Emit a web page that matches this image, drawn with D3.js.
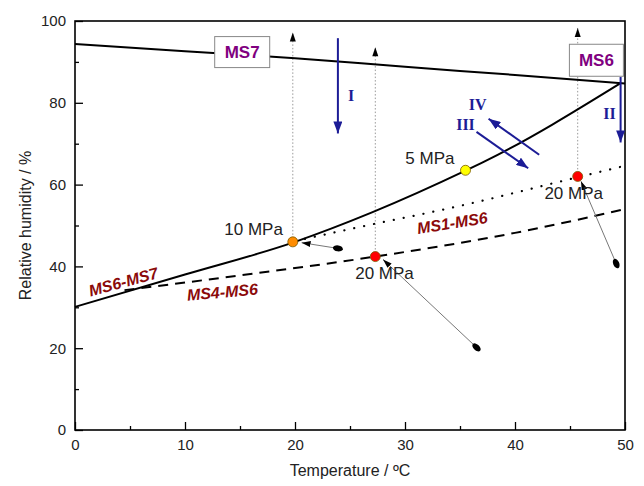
<!DOCTYPE html>
<html>
<head>
<meta charset="utf-8">
<script src="https://cdn.jsdelivr.net/npm/d3@7/dist/d3.min.js"></script>
<style>
  body { margin: 0; background: #fff; }
  svg { display: block; font-family: "Liberation Sans", Arial, sans-serif; }
</style>
</head>
<body>
<div id="chart"></div>
<script>
// ---- data ----
const xTicks = [0, 10, 20, 30, 40, 50];
const yTicks = [0, 20, 40, 60, 80, 100];
const xMinor = [5, 15, 25, 35, 45];
const yMinor = [10, 30, 50, 70, 90];

// phase boundaries [T, RH]
const ms7Line = [[0, 94.4], [10, 92.6], [20, 90.9], [30, 88.8], [40, 86.8], [50, 84.7]];
const ms6ms7Line = [[0, 30.1], [10, 38.0], [20, 46.0], [27, 53.2], [35.5, 63.4], [37.2, 65.6], [49.6, 84.8]];
const ms1ms6Line = [[20, 46.2], [26, 49.7], [35, 54.8], [45.7, 61.8], [50, 64.6]];
const ms4ms6Line = [[4.5, 34.2], [15, 37.8], [27.3, 42.4], [40, 48.2], [50, 54.0]];

// deliquescence points
const points = [
  { label: '10 MPa', t: 19.8, rh: 46.0, color: '#ff8c00', lx: 18.9, ly: 47.6 },
  { label: '5 MPa',  t: 35.5, rh: 63.5, color: '#ffff00', lx: 34.5, ly: 65.0 },
  { label: '20 MPa', t: 27.3, rh: 42.4, color: '#ff0000', lx: 30.8, ly: 37.0 },
  { label: '20 MPa', t: 45.7, rh: 62.0, color: '#ff0000', lx: 48.0, ly: 56.6 }
];

// dotted guides going up from points: [T, RHfrom, RHto]
const guides = [[19.8, 46.0, 97.2], [27.3, 42.4, 93.6], [45.7, 62.0, 98.3]];

// thin pointer arrows: tail -> head
const pointers = [
  { from: [23.9, 44.4], to: [20.6, 45.8] },
  { from: [36.5, 20.2], to: [28.0, 41.7] },
  { from: [49.2, 40.7], to: [46.0, 60.8] }
];

// blue path arrows with roman labels
const pathArrows = [
  { label: 'I',   from: [23.9, 95.8], to: [23.9, 72.5], lt: 25.1, lrh: 81.8 },
  { label: 'II',  from: [49.6, 86.3], to: [49.6, 70.3], lt: 48.6, lrh: 77.4 },
  { label: 'IV',  from: [42.2, 67.3], to: [37.6, 76.1], lt: 36.6, lrh: 79.6 },
  { label: 'III', from: [36.5, 72.9], to: [41.2, 64.0], lt: 35.5, lrh: 74.7 }
];

// boxed phase labels
const boxes = [
  { label: 'MS7', t: 15.2, rh: 92.4, w: 55, h: 31 },
  { label: 'MS6', t: 47.4, rh: 90.4, w: 54, h: 32 }
];

// boundary names (centre position)
const lineNames = [
  { label: 'MS6-MS7', t: 4.4,  rh: 36.2, angle: -15 },
  { label: 'MS4-MS6', t: 13.4, rh: 33.7, angle: -5 },
  { label: 'MS1-MS6', t: 34.3, rh: 50.6, angle: -9 }
];

// ---- layout ----
const W = 644, H = 486;
const margin = { top: 21, right: 19, bottom: 56, left: 75 };

const svg = d3.select('#chart').append('svg')
  .attr('width', W).attr('height', H);

const x = d3.scaleLinear().domain([0, 50]).range([margin.left, W - margin.right]);
const y = d3.scaleLinear().domain([0, 100]).range([H - margin.bottom, margin.top]);

const defs = svg.append('defs');
function marker(id, color, len, wid) {
  defs.append('marker')
    .attr('id', id)
    .attr('viewBox', `0 0 ${len} ${wid}`)
    .attr('refX', len).attr('refY', wid / 2)
    .attr('markerWidth', len).attr('markerHeight', wid)
    .attr('markerUnits', 'userSpaceOnUse')
    .attr('orient', 'auto')
    .append('path')
    .attr('d', `M0,0L${len},${wid / 2}L0,${wid}Z`)
    .attr('fill', color);
}
marker('blueHead', '#1c1c96', 12, 9);
marker('blackHead', '#000', 9, 6);

// ---- axes ----
svg.append('g')
  .attr('transform', `translate(0,${y(0)})`)
  .call(d3.axisBottom(x).tickValues(xTicks).tickSizeInner(-8).tickSizeOuter(0).tickPadding(9));
svg.append('g')
  .attr('transform', `translate(0,${y(0)})`)
  .call(d3.axisBottom(x).tickValues(xMinor).tickSizeInner(-4).tickSizeOuter(0).tickFormat(''));
svg.append('g')
  .attr('transform', `translate(${x(0)},0)`)
  .call(d3.axisLeft(y).tickValues(yTicks).tickSizeInner(-8).tickSizeOuter(0).tickPadding(9));
svg.append('g')
  .attr('transform', `translate(${x(0)},0)`)
  .call(d3.axisLeft(y).tickValues(yMinor).tickSizeInner(-4).tickSizeOuter(0).tickFormat(''));

svg.selectAll('.domain').remove();
svg.selectAll('.tick line').attr('stroke', '#000').attr('stroke-width', 1.3);
svg.selectAll('.tick text')
  .style('font-size', '15px')
  .style('font-family', '"Liberation Sans", Arial, sans-serif')
  .attr('fill', '#222');

// frame
svg.append('rect')
  .attr('x', x(0)).attr('y', y(100))
  .attr('width', x(50) - x(0)).attr('height', y(0) - y(100))
  .attr('fill', 'none').attr('stroke', '#000').attr('stroke-width', 1.6);

svg.append('text')
  .attr('x', (x(0) + x(50)) / 2).attr('y', 476)
  .attr('text-anchor', 'middle')
  .style('font-size', '16px').attr('fill', '#222')
  .text('Temperature / ºC');

svg.append('text')
  .attr('transform', `translate(31,${(y(0) + y(100)) / 2}) rotate(-90)`)
  .attr('text-anchor', 'middle')
  .style('font-size', '16px').attr('fill', '#222')
  .text('Relative humidity / %');

// ---- guides ----
guides.forEach(([t, r0, r1]) => {
  svg.append('line')
    .attr('x1', x(t)).attr('x2', x(t))
    .attr('y1', y(r0)).attr('y2', y(r1))
    .attr('stroke', '#999').attr('stroke-width', 1)
    .attr('stroke-dasharray', '1.5,2');
  svg.append('path')
    .attr('d', `M${x(t) - 3},${y(r1) + 9}L${x(t)},${y(r1)}L${x(t) + 3},${y(r1) + 9}Z`)
    .attr('fill', '#000');
});

// ---- boundary lines ----
const line = d3.line().x(d => x(d[0])).y(d => y(d[1])).curve(d3.curveMonotoneX);

svg.append('path').datum(ms7Line).attr('d', line)
  .attr('fill', 'none').attr('stroke', '#000').attr('stroke-width', 2);
svg.append('path').datum(ms6ms7Line).attr('d', line)
  .attr('fill', 'none').attr('stroke', '#000').attr('stroke-width', 2);
svg.append('path').datum(ms1ms6Line).attr('d', line)
  .attr('fill', 'none').attr('stroke', '#000').attr('stroke-width', 2.2)
  .attr('stroke-linecap', 'round').attr('stroke-dasharray', '0.1,10');
svg.append('path').datum(ms4ms6Line).attr('d', line)
  .attr('fill', 'none').attr('stroke', '#000').attr('stroke-width', 2)
  .attr('stroke-dasharray', '10,7');

// ---- boxed labels ----
boxes.forEach(b => {
  svg.append('rect')
    .attr('x', x(b.t) - b.w / 2).attr('y', y(b.rh) - b.h / 2)
    .attr('width', b.w).attr('height', b.h)
    .attr('fill', '#fff').attr('stroke', '#888').attr('stroke-width', 1);
  svg.append('text')
    .attr('x', x(b.t)).attr('y', y(b.rh) + 6)
    .attr('text-anchor', 'middle')
    .style('font-size', '17px').style('font-weight', 'bold')
    .attr('fill', '#800080')
    .text(b.label);
});

// ---- blue path arrows ----
pathArrows.forEach(a => {
  svg.append('line')
    .attr('x1', x(a.from[0])).attr('y1', y(a.from[1]))
    .attr('x2', x(a.to[0])).attr('y2', y(a.to[1]))
    .attr('stroke', '#1c1c96').attr('stroke-width', 2)
    .attr('marker-end', 'url(#blueHead)');
  svg.append('text')
    .attr('x', x(a.lt)).attr('y', y(a.lrh))
    .attr('text-anchor', 'middle').attr('dominant-baseline', 'central')
    .style('font-family', '"Liberation Serif", "Times New Roman", serif')
    .style('font-size', '16px').style('font-weight', 'bold')
    .attr('fill', '#1c1c96')
    .text(a.label);
});

// ---- pointer arrows ----
pointers.forEach(p => {
  const x0 = x(p.from[0]), y0 = y(p.from[1]);
  const x1 = x(p.to[0]), y1 = y(p.to[1]);
  svg.append('line')
    .attr('x1', x0).attr('y1', y0).attr('x2', x1).attr('y2', y1)
    .attr('stroke', '#777').attr('stroke-width', 1)
    .attr('marker-end', 'url(#blackHead)');
  const ang = Math.atan2(y1 - y0, x1 - x0) * 180 / Math.PI;
  svg.append('ellipse')
    .attr('transform', `translate(${x0},${y0}) rotate(${ang})`)
    .attr('rx', 5).attr('ry', 3)
    .attr('fill', '#000');
});

// ---- points ----
svg.selectAll('.pt')
  .data(points)
  .join('circle')
  .attr('class', 'pt')
  .attr('cx', d => x(d.t)).attr('cy', d => y(d.rh))
  .attr('r', 5)
  .attr('fill', d => d.color)
  .attr('stroke', '#7a5a00').attr('stroke-width', 0.8);

svg.selectAll('.pt-label')
  .data(points)
  .join('text')
  .attr('class', 'pt-label')
  .attr('x', d => x(d.lx)).attr('y', d => y(d.ly))
  .attr('text-anchor', 'end')
  .style('font-size', '17px')
  .attr('fill', '#222')
  .text(d => d.label);

// ---- boundary names ----
lineNames.forEach(n => {
  svg.append('text')
    .attr('transform', `translate(${x(n.t)},${y(n.rh)}) rotate(${n.angle})`)
    .attr('text-anchor', 'middle').attr('dominant-baseline', 'central')
    .style('font-size', '16px').style('font-weight', 'bold').style('font-style', 'italic')
    .attr('fill', '#8b0a0a')
    .text(n.label);
});
</script>
</body>
</html>
